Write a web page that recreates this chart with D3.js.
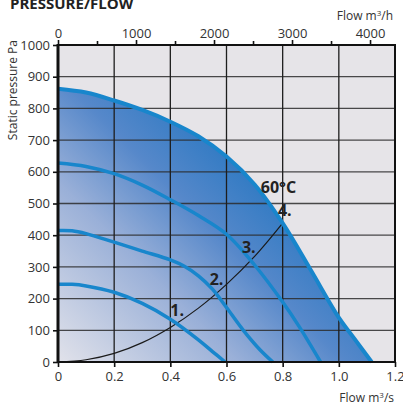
<!DOCTYPE html>
<html>
<head>
<meta charset="utf-8">
<script src="https://cdn.jsdelivr.net/npm/d3@7"></script>
<style>
  body { margin: 0; background: #fff; }
  svg { display: block; }
  text { font-family: "Open Sans", sans-serif; }
</style>
</head>
<body>
<div id="chart"></div>
<script>
// flow in m3/s, static pressure in Pa
var curve60 = [[0, 862], [0.1, 850], [0.2, 825], [0.3, 795], [0.4, 758], [0.5, 712], [0.6, 648], [0.7, 560], [0.8, 438], [0.9, 290], [1.0, 140], [1.05, 80], [1.117, 0]];
var curve3 = [[0, 628], [0.1, 617], [0.2, 594], [0.3, 558], [0.4, 512], [0.5, 462], [0.6, 403], [0.7, 306], [0.8, 189], [0.86, 110], [0.935, 0]];
var curve2 = [[0, 415], [0.05, 414], [0.1, 405], [0.2, 378], [0.3, 350], [0.4, 322], [0.45, 302], [0.5, 272], [0.55, 230], [0.6, 172], [0.66, 100], [0.72, 38], [0.765, 0]];
var curve1 = [[0, 245], [0.05, 245], [0.1, 240], [0.2, 220], [0.3, 185], [0.4, 135], [0.5, 70], [0.55, 33], [0.595, 0]];
var systemCurve = [[0, 0], [0.1, 7], [0.2, 27], [0.3, 61], [0.4, 109], [0.5, 170], [0.6, 245], [0.7, 333], [0.8, 438]];

var xTicks = [0, 0.2, 0.4, 0.6, 0.8, 1.0, 1.2];
var yTicks = [0, 100, 200, 300, 400, 500, 600, 700, 800, 900, 1000];
var topTicks = [0, 1000, 2000, 3000, 4000];
var topMinor = [500, 1500, 2500, 3500];

var labels = [
  { text: "1.", q: 0.4, p: 145 },
  { text: "2.", q: 0.54, p: 243 },
  { text: "3.", q: 0.655, p: 344 },
  { text: "4.", q: 0.783, p: 460 },
  { text: "60°C", q: 0.722, p: 532 }
];

var W = 403, H = 407;
var margin = { left: 58, right: 395, top: 45, bottom: 362 };

var svg = d3.select("#chart").append("svg")
  .attr("width", W)
  .attr("height", H);

var x = d3.scaleLinear().domain([0, 1.2]).range([margin.left, margin.right]);
var y = d3.scaleLinear().domain([0, 1000]).range([margin.bottom, margin.top]);
var xTop = d3.scaleLinear().domain([0, 1.2 * 3600]).range([margin.left, margin.right]);

// gradient for the area below the 60C curve
var defs = svg.append("defs");
var grad = defs.append("linearGradient")
  .attr("id", "fillGrad")
  .attr("gradientUnits", "userSpaceOnUse")
  .attr("x1", margin.left).attr("y1", margin.bottom)
  .attr("x2", margin.left + 200).attr("y2", margin.bottom - 200);
grad.append("stop").attr("offset", "0").attr("stop-color", "#e1e2ea");
grad.append("stop").attr("offset", "0.45").attr("stop-color", "#9ab0d8");
grad.append("stop").attr("offset", "0.72").attr("stop-color", "#5688ca");
grad.append("stop").attr("offset", "1").attr("stop-color", "#2a78c2");

// plot background
svg.append("rect")
  .attr("x", margin.left).attr("y", margin.top)
  .attr("width", margin.right - margin.left).attr("height", margin.bottom - margin.top)
  .attr("fill", "#e6e4e8");

var smooth = d3.curveCatmullRom.alpha(0.5);

var area = d3.area()
  .x(function (d) { return x(d[0]); })
  .y0(y(0))
  .y1(function (d) { return y(d[1]); })
  .curve(smooth);

svg.append("path")
  .datum(curve60)
  .attr("d", area)
  .attr("fill", "url(#fillGrad)");

// grid
svg.append("g")
  .selectAll("line")
  .data(yTicks.slice(1, -1))
  .enter().append("line")
  .attr("x1", margin.left).attr("x2", margin.right)
  .attr("y1", function (d) { return y(d); })
  .attr("y2", function (d) { return y(d); })
  .attr("stroke", "#2b2b2b")
  .attr("stroke-opacity", 0.85)
  .attr("stroke-width", 1.3);

svg.append("g")
  .selectAll("line")
  .data(xTicks.slice(1, -1))
  .enter().append("line")
  .attr("y1", margin.top).attr("y2", margin.bottom)
  .attr("x1", function (d) { return x(d); })
  .attr("x2", function (d) { return x(d); })
  .attr("stroke", "#1e1e1e")
  .attr("stroke-width", 1.3);

var line = d3.line()
  .x(function (d) { return x(d[0]); })
  .y(function (d) { return y(d[1]); })
  .curve(smooth);

// system curve
svg.append("path")
  .datum(systemCurve)
  .attr("d", line)
  .attr("fill", "none")
  .attr("stroke", "#1a1a1a")
  .attr("stroke-width", 1.2);

// fan curves
[curve1, curve2, curve3].forEach(function (c) {
  svg.append("path")
    .datum(c)
    .attr("d", line)
    .attr("fill", "none")
    .attr("stroke", "#1886cc")
    .attr("stroke-width", 3.5);
});

svg.append("path")
  .datum(curve60)
  .attr("d", line)
  .attr("fill", "none")
  .attr("stroke", "#1886cc")
  .attr("stroke-width", 4);

// curve labels
svg.selectAll(".clabel")
  .data(labels)
  .enter().append("text")
  .attr("class", "clabel")
  .attr("x", function (d) { return x(d.q); })
  .attr("y", function (d) { return y(d.p); })
  .attr("font-size", "16px")
  .attr("font-weight", "bold")
  .attr("fill", "#222")
  .text(function (d) { return d.text; });

// axes
var yAxis = d3.axisLeft(y).tickValues(yTicks).tickSize(5).tickPadding(3)
  .tickFormat(d3.format("d"));
var xAxis = d3.axisBottom(x).tickValues(xTicks).tickSize(5).tickPadding(5)
  .tickFormat(function (d) { return d === 0 ? "0" : d3.format(".1f")(d); });
var topAxis = d3.axisTop(xTop).tickValues(topTicks).tickSize(5).tickPadding(2)
  .tickFormat(d3.format("d"));
var topMinorAxis = d3.axisTop(xTop).tickValues(topMinor).tickSize(4).tickFormat("");

var gy = svg.append("g").attr("transform", "translate(" + margin.left + ",0)").call(yAxis);
var gx = svg.append("g").attr("transform", "translate(0," + margin.bottom + ")").call(xAxis);
var gt = svg.append("g").attr("transform", "translate(0," + margin.top + ")").call(topAxis);
var gm = svg.append("g").attr("transform", "translate(0," + margin.top + ")").call(topMinorAxis);

[gy, gx, gt, gm].forEach(function (g) {
  g.select(".domain").remove();
  g.selectAll(".tick line").attr("stroke", "#111").attr("stroke-width", 1.6);
  g.selectAll(".tick text")
    .attr("font-family", "Open Sans")
    .attr("font-size", "13px")
    .attr("fill", "#333");
});

// frame
svg.append("rect")
  .attr("x", margin.left).attr("y", margin.top)
  .attr("width", margin.right - margin.left).attr("height", margin.bottom - margin.top)
  .attr("fill", "none")
  .attr("stroke", "#111")
  .attr("stroke-width", 2);
svg.append("line")
  .attr("x1", margin.left).attr("x2", margin.left)
  .attr("y1", margin.top - 1).attr("y2", margin.bottom + 1)
  .attr("stroke", "#111")
  .attr("stroke-width", 3);

// titles
svg.append("text")
  .attr("x", 10).attr("y", 9)
  .attr("font-size", "15px")
  .attr("font-weight", "bold")
  .attr("fill", "#222")
  .text("PRESSURE/FLOW");

var topTitle = svg.append("text")
  .attr("x", 393).attr("y", 20)
  .attr("text-anchor", "end")
  .attr("font-size", "12px")
  .attr("fill", "#333");
topTitle.append("tspan").text("Flow m");
topTitle.append("tspan").attr("dy", -4).attr("font-size", "8px").text("3");
topTitle.append("tspan").attr("dy", 4).text("/h");

var botTitle = svg.append("text")
  .attr("x", 394).attr("y", 402)
  .attr("text-anchor", "end")
  .attr("font-size", "12px")
  .attr("fill", "#333");
botTitle.append("tspan").text("Flow m");
botTitle.append("tspan").attr("dy", -4).attr("font-size", "8px").text("3");
botTitle.append("tspan").attr("dy", 4).text("/s");

svg.append("text")
  .attr("transform", "translate(17,40) rotate(-90)")
  .attr("text-anchor", "end")
  .attr("font-size", "12px")
  .attr("fill", "#333")
  .text("Static pressure Pa");
</script>
</body>
</html>
